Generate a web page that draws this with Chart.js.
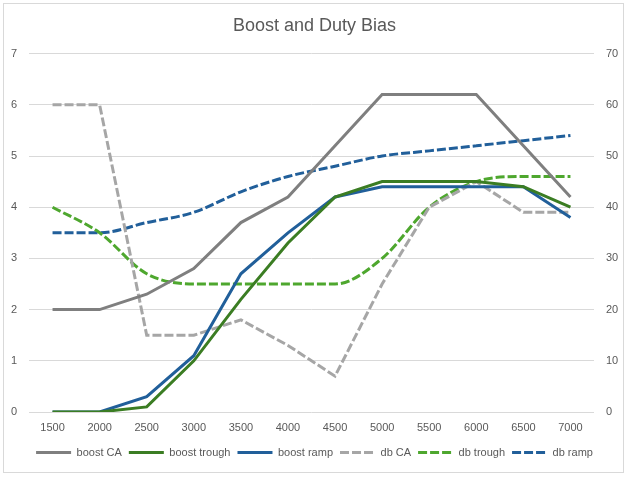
<!DOCTYPE html>
<html>
<head>
<meta charset="utf-8">
<script src="https://cdn.jsdelivr.net/npm/chart.js@4.4.0/dist/chart.umd.min.js"></script>
<style>
  body { margin: 0; background: #fff; }
  #wrap { width: 629px; height: 478px; }
</style>
</head>
<body>
<div id="wrap"><canvas id="bias-chart"></canvas></div>
<script>
const rpm = ["1500", "2000", "2500", "3000", "3500", "4000", "4500", "5000", "5500", "6000", "6500", "7000"];

// left axis (boost)
const boostCA = [2, 2, 2.3, 2.8, 3.7, 4.2, 5.2, 6.2, 6.2, 6.2, 5.2, 4.2];
const boostTrough = [0, 0, 0.1, 1.0, 2.2, 3.3, 4.2, 4.5, 4.5, 4.5, 4.4, 4.0];
const boostRamp = [0, 0, 0.3, 1.1, 2.7, 3.5, 4.2, 4.4, 4.4, 4.4, 4.4, 3.8];

// right axis (duty bias)
const dbCA = [60, 60, 15, 15, 18, 13, 7, 25, 40, 45, 39, 39];
const dbTrough = [40, 35, 27, 25, 25, 25, 25, 30, 40, 45, 46, 46];
const dbRamp = [35, 35, 37, 39, 43, 46, 48, 50, 51, 52, 53, 54];

const textColor = "#595959";
const gridColor = "#d9d9d9";
const dash = [9, 3];
const fontFamily = "'Liberation Sans', Arial, sans-serif";

// light frame round the whole chart
const framePlugin = {
  id: "frame",
  beforeDraw(chart) {
    const c = chart.ctx;
    c.save();
    c.fillStyle = "#fff";
    c.fillRect(0, 0, chart.width, chart.height);
    c.strokeStyle = gridColor;
    c.lineWidth = 1;
    c.strokeRect(3.5, 3.5, 620, 469);
    c.restore();
  },
};

function line(label, data, color, axis, dashed, smooth) {
  return {
    label: label,
    data: data,
    yAxisID: axis,
    borderColor: color,
    backgroundColor: color,
    borderWidth: 3,
    borderDash: dashed ? dash : [],
    borderCapStyle: "butt",
    pointRadius: 0,
    pointHoverRadius: 0,
    cubicInterpolationMode: smooth ? "monotone" : "default",
    tension: 0,
    fill: false,
  };
}

const ctx = document.getElementById("bias-chart").getContext("2d");
new Chart(ctx, {
  type: "line",
  data: {
    labels: rpm,
    datasets: [
      line("boost CA", boostCA, "#7f7f7f", "y", false),
      line("boost trough", boostTrough, "#3b7d23", "y", false),
      line("boost ramp", boostRamp, "#215f9a", "y", false),
      line("db CA", dbCA, "#a6a6a6", "y2", true),
      line("db trough", dbTrough, "#4ea72e", "y2", true, true),
      line("db ramp", dbRamp, "#215f9a", "y2", true, true),
    ],
  },
  options: {
    responsive: true,
    maintainAspectRatio: false,
    animation: false,
    layout: { padding: { top: 5, left: 11, right: 11, bottom: 10 } },
    plugins: {
      title: {
        display: true,
        text: "Boost and Duty Bias",
        color: textColor,
        font: { family: fontFamily, size: 18, weight: "normal" },
        padding: { top: 10, bottom: 17 },
      },
      legend: {
        position: "bottom",
        labels: {
          usePointStyle: true,
          pointStyle: "line",
          pointStyleWidth: 35,
          padding: 7,
          color: textColor,
          font: { family: fontFamily, size: 11 },
          generateLabels(chart) {
            // the default labels drop the dash when point styles are on
            const items = Chart.defaults.plugins.legend.labels.generateLabels(chart);
            items.forEach((item) => {
              const ds = chart.data.datasets[item.datasetIndex];
              item.lineDash = ds.borderDash;
              item.lineWidth = ds.borderWidth;
              item.strokeStyle = ds.borderColor;
            });
            return items;
          },
        },
      },
      tooltip: { enabled: false },
    },
    scales: {
      x: {
        offset: true,
        grid: { display: false, drawTicks: false },
        border: { display: false },
        afterFit(scale) { scale.height = 28; },
        ticks: {
          color: textColor,
          padding: 9,
          maxRotation: 0,
          font: { family: fontFamily, size: 11 },
        },
      },
      y: {
        position: "left",
        min: 0,
        max: 7,
        grid: { color: gridColor, drawTicks: false },
        border: { display: false },
        afterFit(scale) { scale.width = 18; },
        ticks: {
          stepSize: 1,
          color: textColor,
          padding: 12,
          font: { family: fontFamily, size: 11 },
        },
      },
      y2: {
        position: "right",
        min: 0,
        max: 70,
        grid: { drawOnChartArea: false, drawTicks: false },
        border: { display: false },
        afterFit(scale) { scale.width = 24; },
        ticks: {
          stepSize: 10,
          color: textColor,
          padding: 12,
          font: { family: fontFamily, size: 11 },
        },
      },
    },
  },
  plugins: [framePlugin],
});
</script>
</body>
</html>
